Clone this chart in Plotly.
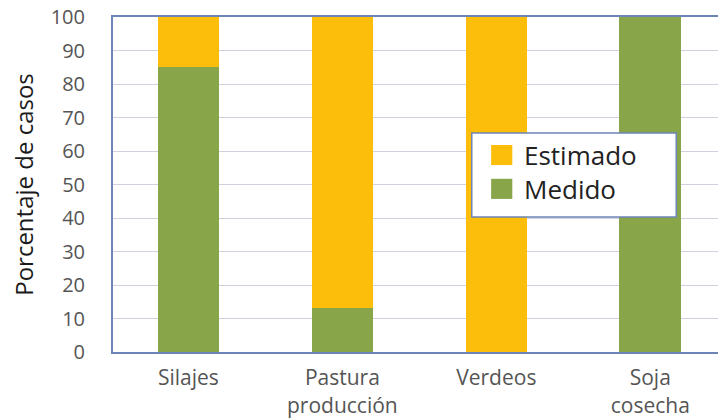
import plotly.graph_objects as go

categories = ["Silajes", "Pastura<br>producción", "Verdeos", "Soja<br>cosecha"]
medido = [85, 13, 0, 100]
estimado = [15, 87, 100, 0]
y_ticks = [0, 10, 20, 30, 40, 50, 60, 70, 80, 90, 100]
legend_labels = ["Estimado", "Medido"]

green = "#88a54a"
orange = "#fcbd0b"
axis_col = "#6d84b8"
grid_col = "#cfd2de"
font_fam = "Open Sans, DejaVu Sans, sans-serif"

fig = go.Figure()
fig.add_trace(go.Bar(x=categories, y=medido, name="Medido", marker=dict(color=green, line=dict(width=0)),
                     width=0.4, showlegend=False))
fig.add_trace(go.Bar(x=categories, y=estimado, name="Estimado", marker=dict(color=orange, line=dict(width=0)),
                     width=0.4, showlegend=False))

# Legend drawn as a boxed key (paper coordinates)
shapes = [
    dict(type="rect", xref="paper", yref="paper", x0=0.593, x1=0.931, y0=0.403, y1=0.654,
         fillcolor="white", line=dict(color=axis_col, width=1.5), layer="above"),
]
legend_colors = [orange, green]
legend_y = [0.588, 0.487]
annotations = []
for lab, col, yc in zip(legend_labels, legend_colors, legend_y):
    shapes.append(dict(type="rect", xref="paper", yref="paper", x0=0.625, x1=0.660,
                       y0=yc - 0.03, y1=yc + 0.03, fillcolor=col, line=dict(width=0), layer="above"))
    annotations.append(dict(xref="paper", yref="paper", x=0.676, y=yc, text=lab, showarrow=False,
                            xanchor="left", yanchor="middle",
                            font=dict(size=26, color="#222222", family=font_fam)))

fig.update_layout(
    width=718, height=420,
    barmode="stack",
    plot_bgcolor="white", paper_bgcolor="white",
    margin=dict(l=113, r=0, t=17, b=68),
    font=dict(family=font_fam, color="#555555", size=20),
    showlegend=False,
    shapes=shapes,
    annotations=annotations,
)
fig.update_xaxes(
    range=[-0.49, 3.44],
    showline=True, linecolor=axis_col, linewidth=2, mirror=True,
    ticks="", showgrid=False,
    ticklabelstandoff=6,
    tickfont=dict(size=21, color="#555555"),
)
fig.update_yaxes(
    range=[0, 100],
    tickvals=y_ticks,
    showline=True, linecolor=axis_col, linewidth=2,
    showgrid=True, gridcolor=grid_col, gridwidth=1,
    zeroline=False,
    ticks="", ticklabelstandoff=22,
    tickfont=dict(size=20, color="#555555"),
    title=dict(text="Porcentaje de casos", font=dict(size=24, color="#1a1a1a"), standoff=10),
)

fig.write_html("out.html")
